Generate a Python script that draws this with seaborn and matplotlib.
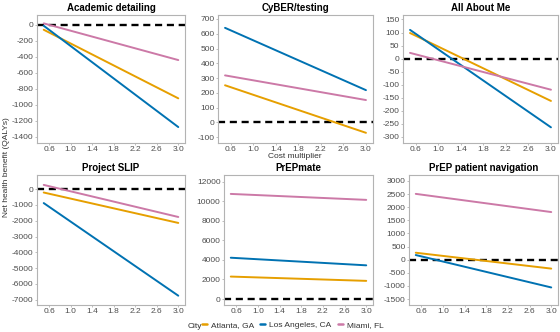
import numpy as np
import pandas as pd
import matplotlib
matplotlib.use('Agg')
import matplotlib.pyplot as plt
from matplotlib.lines import Line2D
import seaborn as sns

# Data (values at cost multiplier 0.5 and 3.0)
interventions = ['Academic detailing', 'CyBER/testing', 'All About Me',
                 'Project SLIP', 'PrEPmate', 'PrEP patient navigation']
cities = ['Atlanta, GA', 'Los Angeles, CA', 'Miami, FL']
cost_multiplier = [0.5, 3.0]

atlanta_start = [-60, 251, 98, -210, 2297, 265]
atlanta_end = [-920, -71, -162, -2138, 1858, -340]
la_start = [-10, 640, 110, -880, 4223, 177]
la_end = [-1280, 218, -263, -6750, 3446, -1058]
miami_start = [20, 318, 22, 272, 10743, 2508]
miami_end = [-440, 151, -119, -1761, 10135, 1815]

x_ticks = [0.6, 1.0, 1.4, 1.8, 2.2, 2.6, 3.0]
y_ticks = [np.arange(-1400, 1, 200), np.arange(-100, 701, 100), np.arange(-300, 151, 50),
           np.arange(-7000, 1, 1000), np.arange(0, 12001, 2000), np.arange(-1500, 3001, 500)]
y_limits = [(-1480, 125), (-140, 727), (-323, 167), (-7340, 900), (-608, 12676), (-1727, 3227)]

# long-form table for seaborn
rows = []
series = {'Atlanta, GA': (atlanta_start, atlanta_end),
          'Los Angeles, CA': (la_start, la_end),
          'Miami, FL': (miami_start, miami_end)}
for i, name in enumerate(interventions):
    for city in cities:
        start, end = series[city]
        rows.append({'intervention': name, 'City': city, 'cost': cost_multiplier[0], 'nhb': start[i]})
        rows.append({'intervention': name, 'City': city, 'cost': cost_multiplier[1], 'nhb': end[i]})
df = pd.DataFrame(rows)

palette = {'Atlanta, GA': '#E69F00', 'Los Angeles, CA': '#0072B2', 'Miami, FL': '#CC79A7'}

sns.set_style('white')
plt.rcParams['font.family'] = ['Liberation Sans', 'DejaVu Sans']

W, H = 560, 332
fig = plt.figure(figsize=(W / 100, H / 100), dpi=100)

# panel boxes in pixels: (left, top, right, bottom)
boxes = [(37, 15, 185, 143), (218, 15, 373, 143), (403, 15, 558, 143),
         (37, 175, 185, 305), (224, 175, 373, 305), (409, 175, 558, 305)]

for i, name in enumerate(interventions):
    l, t, r, b = boxes[i]
    ax = fig.add_axes([l / W, 1 - b / H, (r - l) / W, (b - t) / H])
    ax.axhline(0, color='black', lw=1.7, dashes=(3, 2), zorder=1)
    sns.lineplot(data=df[df['intervention'] == name], x='cost', y='nhb', hue='City',
                 palette=palette, hue_order=cities, lw=1.4, legend=False, ax=ax, zorder=2)
    ax.set_xlim(0.375, 3.125)
    ax.set_ylim(*y_limits[i])
    ax.set_xticks(x_ticks)
    ax.set_xticklabels([f'{v:.1f}' for v in x_ticks])
    ax.set_yticks(y_ticks[i])
    ax.set_yticklabels([str(int(v)) for v in y_ticks[i]])
    ax.set_xlabel('')
    ax.set_ylabel('')
    ax.set_title(name, fontsize=7, fontweight='bold', pad=3, color='black')
    ax.tick_params(axis='both', length=1.5, width=0.6, color='#b3b3b3', labelsize=6,
                   labelcolor='#4d4d4d', pad=1, bottom=True, left=True)
    for sp in ax.spines.values():
        sp.set_color('#b3b3b3')
        sp.set_linewidth(0.8)

fig.text(295 / W, 1 - 156 / H, 'Cost multiplier', ha='center', va='center', fontsize=6, color='#333333')
fig.text(7 / W, 1 - 167 / H, 'Net health benefit (QALYs)', ha='center', va='center',
         rotation=90, fontsize=6, color='#333333')

handles = [Line2D([0], [0], color=palette[c], lw=1.8) for c in cities]
fig.text(188 / W, 1 - 326 / H, 'City', ha='left', va='center', fontsize=6, color='#333333')
fig.legend(handles, cities, loc='center left', bbox_to_anchor=(202 / W, 1 - 325 / H), ncol=3,
           frameon=False, fontsize=6, handlelength=0.6, handletextpad=0.5, columnspacing=0.7,
           borderpad=0, borderaxespad=0, labelcolor='#333333')

fig.savefig('out.png', dpi=100)
